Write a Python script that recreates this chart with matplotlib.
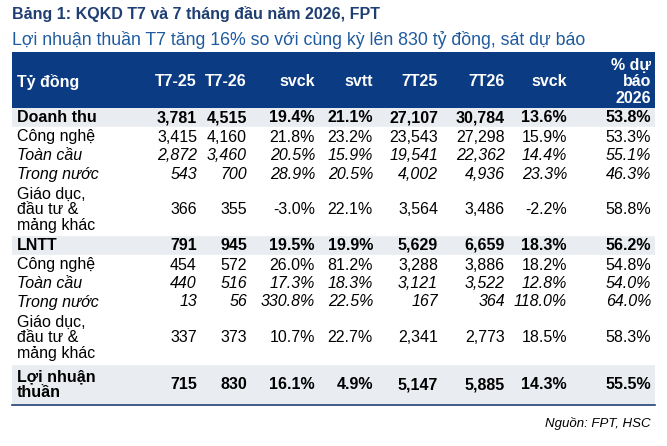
import matplotlib.pyplot as plt
from matplotlib.patches import Rectangle

plt.rcParams['font.family'] = ['Liberation Sans', 'DejaVu Sans']

title = 'Bảng 1: KQKD T7 và 7 tháng đầu năm 2026, FPT'
subtitle = 'Lợi nhuận thuần T7 tăng 16% so với cùng kỳ lên 830 tỷ đồng, sát dự báo'
source = 'Nguồn: FPT, HSC'

columns = ['T7-25', 'T7-26', 'svck', 'svtt', '7T25', '7T26', 'svck', '% dự\nbáo\n2026']
row_labels = ['Doanh thu', 'Công nghệ', 'Toàn cầu', 'Trong nước', 'Giáo dục,\nđầu tư &\nmảng khác',
              'LNTT', 'Công nghệ', 'Toàn cầu', 'Trong nước', 'Giáo dục,\nđầu tư &\nmảng khác',
              'Lợi nhuận\nthuần']
row_values = [
    ['3,781', '4,515', '19.4%', '21.1%', '27,107', '30,784', '13.6%', '53.8%'],
    ['3,415', '4,160', '21.8%', '23.2%', '23,543', '27,298', '15.9%', '53.3%'],
    ['2,872', '3,460', '20.5%', '15.9%', '19,541', '22,362', '14.4%', '55.1%'],
    ['543', '700', '28.9%', '20.5%', '4,002', '4,936', '23.3%', '46.3%'],
    ['366', '355', '-3.0%', '22.1%', '3,564', '3,486', '-2.2%', '58.8%'],
    ['791', '945', '19.5%', '19.9%', '5,629', '6,659', '18.3%', '56.2%'],
    ['454', '572', '26.0%', '81.2%', '3,288', '3,886', '18.2%', '54.8%'],
    ['440', '516', '17.3%', '18.3%', '3,121', '3,522', '12.8%', '54.0%'],
    ['13', '56', '330.8%', '22.5%', '167', '364', '118.0%', '64.0%'],
    ['337', '373', '10.7%', '22.7%', '2,341', '2,773', '18.5%', '58.3%'],
    ['715', '830', '16.1%', '4.9%', '5,147', '5,885', '14.3%', '55.5%'],
]
row_style = ['bold', 'normal', 'italic', 'italic', 'normal',
             'bold', 'normal', 'italic', 'italic', 'normal', 'bold']
row_bounds = [108, 127, 146, 165, 183, 235, 255, 274, 292, 311, 364, 404]

col_right = [197, 247, 315, 373, 438, 505, 567, 651]
navy = '#0B3C83'
title_blue = '#1F3F73'
band = '#E9ECF1'
fs = 11.5

fig = plt.figure(figsize=(6.67, 4.46), dpi=100)
ax = fig.add_axes([0, 0, 1, 1])
ax.set_xlim(0, 667)
ax.set_ylim(446, 0)
ax.axis('off')

ax.text(12, 14, title, fontsize=11.5, fontweight='bold', color=title_blue, va='center')
ax.text(12, 40, subtitle, fontsize=12.8, color='#1F5A9E', va='center')

# header
ax.add_patch(Rectangle((12, 52), 643, 56, color=navy, lw=0))
ax.text(17, 82, 'Tỷ đồng', fontsize=fs, fontweight='bold', color='white', va='center')
for x, c in zip(col_right, columns):
    ax.text(x, 82, c, fontsize=fs, fontweight='bold', color='white', va='center', ha='right',
            multialignment='right', linespacing=1.1)

for i, (lab, vals, st) in enumerate(zip(row_labels, row_values, row_style)):
    y0, y1 = row_bounds[i], row_bounds[i + 1]
    ym = (y0 + y1) / 2 + 0.5
    if st == 'bold':
        ax.add_patch(Rectangle((12, y0), 643, y1 - y0, color=band, lw=0))
    kw = dict(fontsize=fs, color='black', va='center', linespacing=1.05)
    if st == 'bold':
        kw['fontweight'] = 'bold'
    if st == 'italic':
        kw['fontstyle'] = 'italic'
    ax.text(17, ym, lab, **kw)
    for x, v in zip(col_right, vals):
        ax.text(x, ym, v, ha='right', **kw)
    if i < len(row_labels) - 1:
        ax.plot([12, 655], [y1, y1], color='white', lw=1)

ax.plot([12, 655], [405, 405], color='#1F3F73', lw=1.2)
ax.text(651, 423, source, fontsize=9.5, fontstyle='italic', ha='right', va='center', color='black')

fig.savefig('out.png', dpi=100)
